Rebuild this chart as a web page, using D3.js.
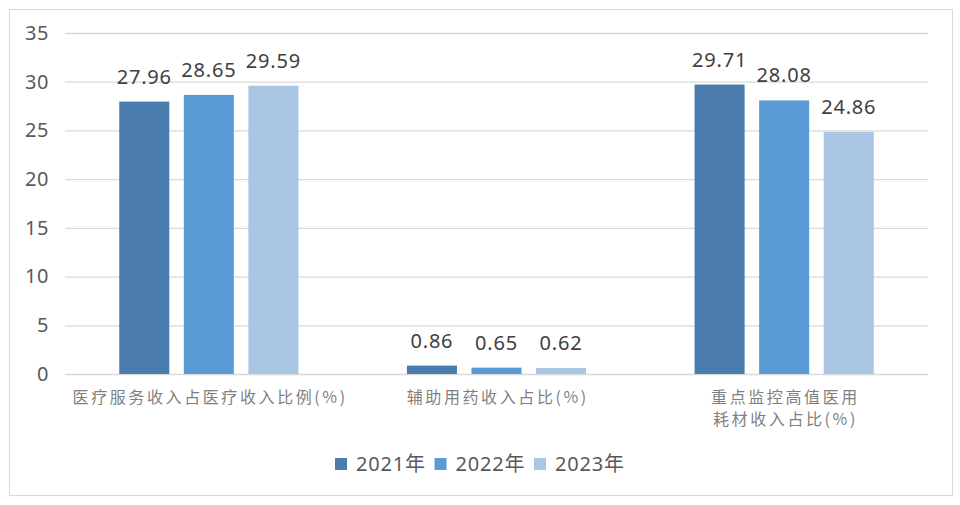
<!DOCTYPE html>
<html>
<head>
<meta charset="utf-8">
<script src="https://cdn.jsdelivr.net/npm/d3@7"></script>
<style>
  html, body { margin: 0; padding: 0; background: #fff; }
  svg { display: block; }
  .num { font-family: "Noto Sans", "Noto Sans CJK SC", sans-serif; }
  .cjk { font-family: "Noto Sans CJK SC", sans-serif; }
</style>
</head>
<body>
<div id="chart"></div>
<script>
  // data
  const categories = [
    ["医疗服务收入占医疗收入比例(%)"],
    ["辅助用药收入占比(%)"],
    ["重点监控高值医用", "耗材收入占比(%)"]
  ];
  const years = ["2021年", "2022年", "2023年"];
  const values2021 = [27.96, 0.86, 29.71];
  const values2022 = [28.65, 0.65, 28.08];
  const values2023 = [29.59, 0.62, 24.86];
  const yTicks = [0, 5, 10, 15, 20, 25, 30, 35];

  const series = [values2021, values2022, values2023];
  const colors = ["#4a7dad", "#5a9ad5", "#abc5e5"];

  const W = 960, H = 505;
  const plot = { left: 65, right: 928, top: 33, bottom: 374 };

  const svg = d3.select("#chart").append("svg")
    .attr("width", W).attr("height", H);

  // outer frame
  svg.append("rect")
    .attr("x", 9.5).attr("y", 9.5)
    .attr("width", 943).attr("height", 486)
    .attr("fill", "#fff")
    .attr("stroke", "#d9d9d9")
    .attr("stroke-width", 1);

  const y = d3.scaleLinear().domain([0, 35]).range([plot.bottom, plot.top]);

  const x0 = d3.scaleBand()
    .domain(d3.range(categories.length))
    .range([plot.left, plot.right])
    .padding(0);

  const x1 = d3.scaleBand()
    .domain(d3.range(years.length))
    .range([0, x0.bandwidth()])
    .paddingInner(0.225)
    .paddingOuter(0.84);

  // gridlines + y labels
  const yAxis = d3.axisLeft(y)
    .tickValues(yTicks)
    .tickSize(-(plot.right - plot.left))
    .tickPadding(16);

  const ga = svg.append("g")
    .attr("transform", `translate(${plot.left},0)`)
    .call(yAxis);
  ga.select(".domain").remove();
  ga.selectAll(".tick line")
    .attr("stroke", "#d9d9d9")
    .attr("stroke-width", 1.3);
  ga.selectAll(".tick text")
    .attr("class", "num")
    .attr("fill", "#595959")
    .style("font-size", "20px")
    .style("letter-spacing", "0.5px");

  // bars
  const groups = svg.append("g").selectAll("g")
    .data(categories.map((c, i) => i))
    .join("g")
    .attr("transform", i => `translate(${x0(i)},0)`);

  groups.selectAll("rect")
    .data(i => series.map((s, k) => ({ k, v: s[i] })))
    .join("rect")
    .attr("x", d => x1(d.k))
    .attr("width", x1.bandwidth())
    .attr("y", d => y(d.v))
    .attr("height", d => y(0) - y(d.v))
    .attr("fill", d => colors[d.k]);

  groups.selectAll("text.val")
    .data(i => series.map((s, k) => ({ k, v: s[i] })))
    .join("text")
    .attr("class", "val num")
    .attr("x", d => x1(d.k) + x1.bandwidth() / 2)
    .attr("y", d => y(d.v) - 18)
    .attr("text-anchor", "middle")
    .attr("fill", "#404040")
    .style("font-size", "20px")
    .style("letter-spacing", "0.8px")
    .text(d => d.v.toFixed(2));

  // category labels
  groups.each(function (i) {
    const t = d3.select(this).append("text")
      .attr("class", "cjk")
      .attr("text-anchor", "middle")
      .attr("fill", "#7f7f7f")
      .style("font-size", "16px")
      .style("letter-spacing", "2.6px");
    categories[i].forEach((line, j) => {
      t.append("tspan")
        .attr("x", x0.bandwidth() / 2 + 1.3)
        .attr("y", 403 + j * 22)
        .text(line);
    });
  });

  // legend
  const legend = svg.append("g").selectAll("g")
    .data(years)
    .join("g")
    .attr("transform", (d, i) => `translate(${335 + i * 99.5},458)`);

  legend.append("rect")
    .attr("width", 12).attr("height", 12)
    .attr("fill", (d, i) => colors[i]);

  legend.append("text")
    .attr("class", "num")
    .attr("x", 21).attr("y", 12.5)
    .attr("fill", "#595959")
    .style("font-size", "20px")
    .style("letter-spacing", "0.8px")
    .text(d => d);
</script>
</body>
</html>
